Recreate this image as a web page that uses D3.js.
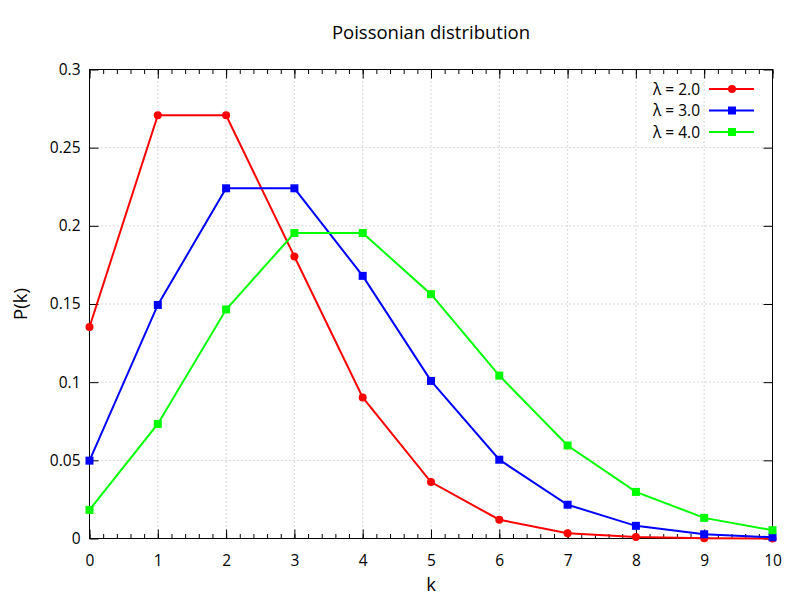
<!DOCTYPE html>
<html>
<head>
<meta charset="utf-8">
<script src="https://cdn.jsdelivr.net/npm/d3@7"></script>
<style>
  body { margin: 0; background: #fff; }
  text { font-family: "Open Sans", "Noto Sans", sans-serif; fill: #000; }
</style>
</head>
<body>
<svg id="chart" width="800" height="600"></svg>
<script>
// values
const kValues = [0, 1, 2, 3, 4, 5, 6, 7, 8, 9, 10];
const lambda2 = [0.1353, 0.2707, 0.2707, 0.1804, 0.0902, 0.0361, 0.0120, 0.0034, 0.0009, 0.0002, 0.00004];
const lambda3 = [0.0498, 0.1494, 0.2240, 0.2240, 0.1680, 0.1008, 0.0504, 0.0216, 0.0081, 0.0027, 0.0008];
const lambda4 = [0.0183, 0.0733, 0.1465, 0.1954, 0.1954, 0.1563, 0.1042, 0.0595, 0.0298, 0.0132, 0.0053];
const seriesNames = ["λ = 2.0", "λ = 3.0", "λ = 4.0"];
const seriesColors = ["#ff0000", "#0000ff", "#00ff00"];
const seriesShapes = ["circle", "square", "square"];
const yTicks = [0, 0.05, 0.1, 0.15, 0.2, 0.25, 0.3];
const yTickLabels = ["0", "0.05", "0.1", "0.15", "0.2", "0.25", "0.3"];

const margin = { left: 89.5, right: 772.5, top: 69.5, bottom: 538.5 };
const svg = d3.select("#chart");

const x = d3.scaleLinear().domain([0, 10]).range([margin.left, margin.right]);
const y = d3.scaleLinear().domain([0, 0.3]).range([margin.bottom, margin.top]);

// grid
const grid = svg.append("g")
    .attr("stroke", "#b0b0b0")
    .attr("stroke-width", 1)
    .attr("stroke-dasharray", "1,3");
kValues.slice(1, -1).forEach(function(k) {
    grid.append("line")
        .attr("x1", x(k)).attr("x2", x(k))
        .attr("y1", margin.top).attr("y2", margin.bottom);
});
yTicks.slice(1, -1).forEach(function(v) {
    grid.append("line")
        .attr("x1", margin.left).attr("x2", margin.right)
        .attr("y1", y(v)).attr("y2", y(v));
});

// axes
const xMinor = d3.range(0, 10.001, 0.2);
svg.append("g")
    .attr("transform", "translate(0," + margin.bottom + ")")
    .call(d3.axisBottom(x).tickValues(xMinor).tickSize(-4.5).tickFormat(""))
    .call(g => g.select(".domain").remove());
svg.append("g")
    .attr("transform", "translate(0," + margin.bottom + ")")
    .call(d3.axisBottom(x).tickValues(kValues).tickSize(-9).tickPadding(16).tickFormat(d3.format("d")))
    .call(g => g.select(".domain").remove());
svg.append("g")
    .attr("transform", "translate(0," + margin.top + ")")
    .call(d3.axisTop(x).tickValues(xMinor).tickSize(-4.5).tickFormat(""))
    .call(g => g.select(".domain").remove());
svg.append("g")
    .attr("transform", "translate(0," + margin.top + ")")
    .call(d3.axisTop(x).tickValues(kValues).tickSize(-9).tickFormat(""))
    .call(g => g.select(".domain").remove());
svg.append("g")
    .attr("transform", "translate(" + margin.left + ",0)")
    .call(d3.axisLeft(y).tickValues(yTicks).tickSize(-9).tickPadding(9)
        .tickFormat((d, i) => yTickLabels[i]))
    .call(g => g.select(".domain").remove());
svg.append("g")
    .attr("transform", "translate(" + margin.right + ",0)")
    .call(d3.axisRight(y).tickValues(yTicks).tickSize(-9).tickFormat(""))
    .call(g => g.select(".domain").remove());

svg.selectAll(".tick text").attr("font-size", 15.5).attr("font-family", "Open Sans");
svg.selectAll(".tick line").attr("stroke", "#000");

svg.append("rect")
    .attr("x", margin.left).attr("y", margin.top)
    .attr("width", margin.right - margin.left)
    .attr("height", margin.bottom - margin.top)
    .attr("fill", "none").attr("stroke", "#000").attr("stroke-width", 1);

// series
const allSeries = [lambda2, lambda3, lambda4];
const line = d3.line().x((d, i) => x(kValues[i])).y(d => y(d));

function drawMarker(g, shape, color, cx, cy) {
    if (shape === "circle") {
        g.append("circle").attr("cx", cx).attr("cy", cy).attr("r", 4).attr("fill", color);
    } else {
        g.append("rect").attr("x", cx - 4).attr("y", cy - 4)
            .attr("width", 8).attr("height", 8).attr("fill", color);
    }
}

allSeries.forEach(function(values, s) {
    const g = svg.append("g");
    g.append("path")
        .attr("d", line(values))
        .attr("fill", "none")
        .attr("stroke", seriesColors[s])
        .attr("stroke-width", 2);
    values.forEach(function(v, i) {
        drawMarker(g, seriesShapes[s], seriesColors[s], x(kValues[i]), y(v));
    });
});

// legend
const legend = svg.append("g");
seriesNames.forEach(function(name, s) {
    const ly = 89 + s * 21.5;
    legend.append("text")
        .attr("x", 700).attr("y", ly + 5.5)
        .attr("text-anchor", "end")
        .attr("font-size", 15.5)
        .text(name);
    legend.append("line")
        .attr("x1", 709).attr("x2", 754)
        .attr("y1", ly).attr("y2", ly)
        .attr("stroke", seriesColors[s]).attr("stroke-width", 2);
    drawMarker(legend, seriesShapes[s], seriesColors[s], 732, ly);
});

// titles
svg.append("text")
    .attr("x", (margin.left + margin.right) / 2).attr("y", 39)
    .attr("text-anchor", "middle")
    .attr("font-size", 18.5)
    .text("Poissonian distribution");
svg.append("text")
    .attr("x", (margin.left + margin.right) / 2).attr("y", 591)
    .attr("text-anchor", "middle")
    .attr("font-size", 18.5)
    .text("k");
svg.append("text")
    .attr("transform", "translate(27," + ((margin.top + margin.bottom) / 2) + ") rotate(-90)")
    .attr("text-anchor", "middle")
    .attr("font-size", 18.5)
    .text("P(k)");
</script>
</body>
</html>
